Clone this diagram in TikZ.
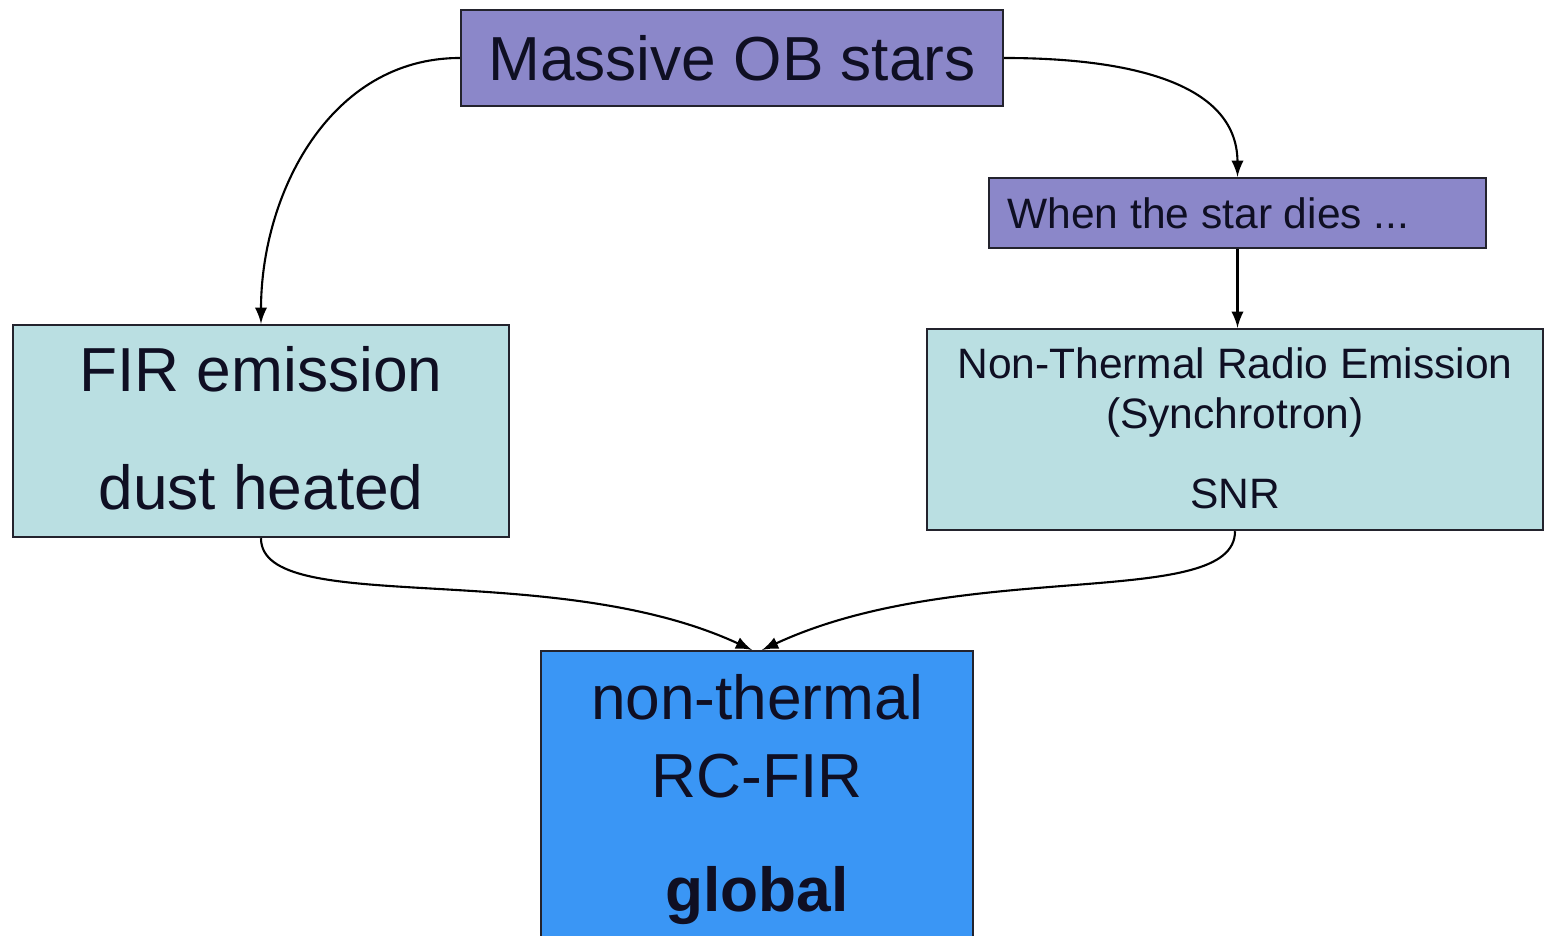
\documentclass[tikz,border=0pt]{standalone}
\usepackage{fontspec}
\setmainfont{Liberation Sans}
\usepackage{tikz}
\usetikzlibrary{arrows, positioning, calc}
\definecolor{obpurple}{RGB}{139,135,201}
\definecolor{emicyan}{RGB}{186,223,226}
\definecolor{rcblue}{RGB}{58,150,245}
\definecolor{inkdark}{RGB}{15,15,35}
\definecolor{edgedark}{RGB}{35,35,45}

\begin{document}
\begin{tikzpicture}[>=latex,
    box/.style={rectangle,draw=edgedark,line width=0.7pt,inner sep=0pt,text=inkdark},
    big/.style={font=\fontsize{17.7}{21}\selectfont,text=inkdark,inner sep=0pt},
    small/.style={font=\fontsize{12.1}{14.5}\selectfont,text=inkdark,inner sep=0pt},
    flow/.style={->,line width=0.6pt,black}]
    \clip (0,0) rectangle (15.44,-9.36);

    % Massive OB stars
    \node[box,fill=obpurple,minimum width=5.42cm,minimum height=0.96cm,big] (ob) at (7.32,-0.58) {Massive OB stars};

    % When the star dies
    \node[box,fill=obpurple,minimum width=4.97cm,minimum height=0.70cm] (dies) at (12.375,-2.13) {};
    \node[small,anchor=west] (dieslbl) at ([xshift=0.19cm]dies.west) {When the star dies ...};

    % FIR emission
    \node[box,fill=emicyan,minimum width=4.96cm,minimum height=2.12cm] (fir) at (2.61,-4.31) {};
    \node[big,anchor=base] (firtop) at ([yshift=-0.68cm]fir.north) {FIR emission};
    \node[big,anchor=base] (firbot) at ([yshift=0.29cm]fir.south) {dust heated};

    % Non-Thermal Radio Emission
    \node[box,fill=emicyan,minimum width=6.16cm,minimum height=2.01cm] (ntr) at (12.35,-4.295) {};
    \node[small,anchor=base] (ntrtop) at ([yshift=-0.51cm]ntr.north) {Non-Thermal Radio Emission};
    \node[small,anchor=base] (ntrmid) at ([yshift=-1.01cm]ntr.north) {(Synchrotron)};
    \node[small,anchor=base] (ntrbot) at ([yshift=0.23cm]ntr.south) {SNR};

    % non-thermal RC-FIR
    \node[box,fill=rcblue,minimum width=4.32cm,minimum height=3.2cm,anchor=north] (rc) at (7.57,-6.50) {};
    \node[big,anchor=base] (rctop) at ([yshift=-0.70cm]rc.north) {non-thermal};
    \node[big,anchor=base] (rcmid) at ([yshift=-1.48cm]rc.north) {RC-FIR};
    \node[big,anchor=base,font=\fontsize{17.7}{21}\selectfont\bfseries] (rcbot) at ([yshift=-2.62cm]rc.north) {global};

    % Connessioni
    \draw[flow] (ob.west) to[out=180,in=90] (fir.north);
    \draw[flow] (ob.east) to[out=0,in=90] (dies.north);
    \draw[flow] (dies.south) -- (dies.south |- ntr.north);
    \draw[flow] (fir.south) to[out=-90,in=155,out distance=0.8cm,in distance=2.2cm] ([xshift=-0.05cm]rc.north);
    \draw[flow] (ntr.south) to[out=-90,in=25,out distance=0.8cm,in distance=2.2cm] ([xshift=0.05cm]rc.north);
\end{tikzpicture}
\end{document}
